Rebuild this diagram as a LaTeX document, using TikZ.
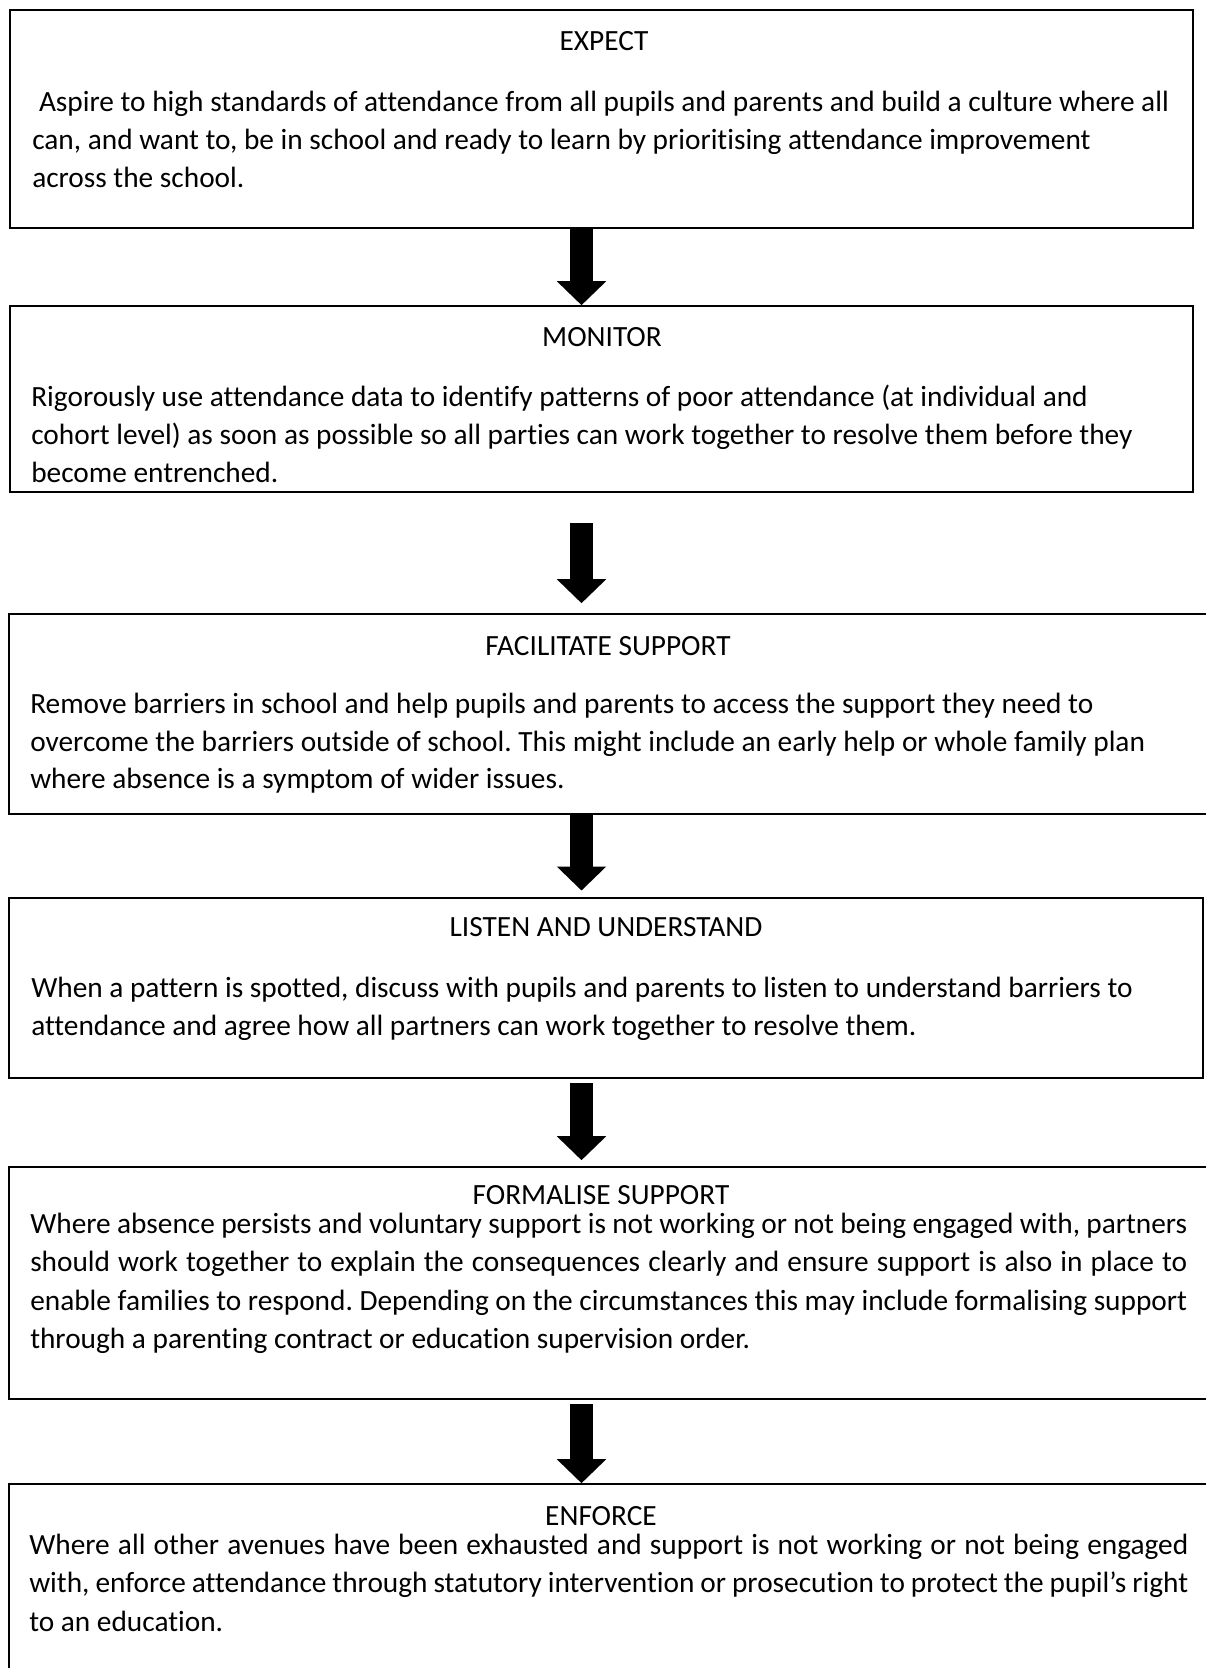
\documentclass[tikz,border=0pt]{standalone}
\usepackage{fontspec}
\setmainfont[Ligatures=CommonOff]{Carlito}
\usetikzlibrary{arrows.meta,fit}
\begin{document}
\frenchspacing
\begin{tikzpicture}[x=0.75pt,y=-0.75pt,
  box/.style={draw=black, line width=1.2pt, rectangle, inner sep=0pt},
  ln/.style={anchor=mid west, inner sep=0pt, font=\fontsize{22}{26}\selectfont},
  ttl/.style={anchor=mid, inner sep=0pt, font=\fontsize{22}{26}\selectfont},
  bigarrow/.style={line width=17.5pt, -{Triangle[length=18pt,width=36pt]}}]
\clip (0,0) rectangle (1206,1668);
\fill[white] (0,0) rectangle (1206,1668);
\coordinate (ax) at (581.5,0);
% boxes
\node[box, fit={(10,10) (1193,228)}] (b1) {};
\node[box, fit={(10,306) (1193,492)}] (b2) {};
\node[box, fit={(9,614) (1220,814)}] (b3) {};
\node[box, fit={(9,898) (1203,1078)}] (b4) {};
\node[box, fit={(9,1167) (1220,1399)}] (b5) {};
\node[box, fit={(9,1484) (1220,1690)}] (b6) {};
% arrows
\draw[bigarrow] (b1.south -| ax) -- (b2.north -| ax);
\draw[bigarrow, shorten <=23pt, shorten >=7.5pt] (b2.south -| ax) -- (b3.north -| ax);
\draw[bigarrow, shorten >=5pt] (b3.south -| ax) -- (b4.north -| ax);
\draw[bigarrow, shorten <=3.5pt, shorten >=4.5pt] (b4.south -| ax) -- (b5.north -| ax);
\draw[bigarrow, shorten <=3.5pt] (b5.south -| ax) -- (b6.north -| ax);
% box 1
\node[ttl] (t1) at (604,47) {EXPECT};
\node[ln] (l11) at (32,108) {\hspace*{0.23em}Aspire to high standards of attendance from all pupils and parents and build a culture where all};
\node[ln] (l12) at (32,146) {can, and want to, be in school and ready to learn by prioritising attendance improvement};
\node[ln] (l13) at (32,184) {across the school.};
% box 2
\node[ttl] (t2) at (602,343) {MONITOR};
\node[ln] (l21) at (31,403) {Rigorously use attendance data to identify patterns of poor attendance (at individual and};
\node[ln] (l22) at (31,441) {cohort level) as soon as possible so all parties can work together to resolve them before they};
\node[ln] (l23) at (31,479) {become entrenched.};
% box 3
\node[ttl] (t3) at (608,652) {FACILITATE SUPPORT};
\node[ln] (l31) at (30,710) {Remove barriers in school and help pupils and parents to access the support they need to};
\node[ln] (l32) at (30,748) {overcome the barriers outside of school. This might include an early help or whole family plan};
\node[ln] (l33) at (30,785) {where absence is a symptom of wider issues.};
% box 4
\node[ttl] (t4) at (606,933) {LISTEN AND UNDERSTAND};
\node[ln] (l41) at (31,994) {When a pattern is spotted, discuss with pupils and parents to listen to understand barriers to};
\node[ln] (l42) at (31,1032) {attendance and agree how all partners can work together to resolve them.};
% box 5
\node[ttl] (t5) at (601,1201) {FORMALISE SUPPORT};
\node[ln] (l51) at (30,1230) {\makebox[867.75pt][s]{Where absence persists and voluntary support is not working or not being engaged with, partners}};
\node[ln] (l52) at (30,1268) {\makebox[867.75pt][s]{should work together to explain the consequences clearly and ensure support is also in place to}};
\node[ln] (l53) at (30,1307) {\makebox[867.75pt][s]{enable families to respond. Depending on the circumstances this may include formalising support}};
\node[ln] (l54) at (30,1345) {through a parenting contract or education supervision order.};
% box 6
\node[ttl] (t6) at (601,1522) {ENFORCE};
\node[ln] (l61) at (29,1551) {\makebox[869.25pt][s]{Where all other avenues have been exhausted and support is not working or not being engaged}};
\node[ln] (l62) at (29,1589) {\makebox[869.25pt][s]{with, enforce attendance through statutory intervention or prosecution to protect the pupil’s right}};
\node[ln] (l63) at (29,1628) {to an education.};
\end{tikzpicture}
\end{document}
